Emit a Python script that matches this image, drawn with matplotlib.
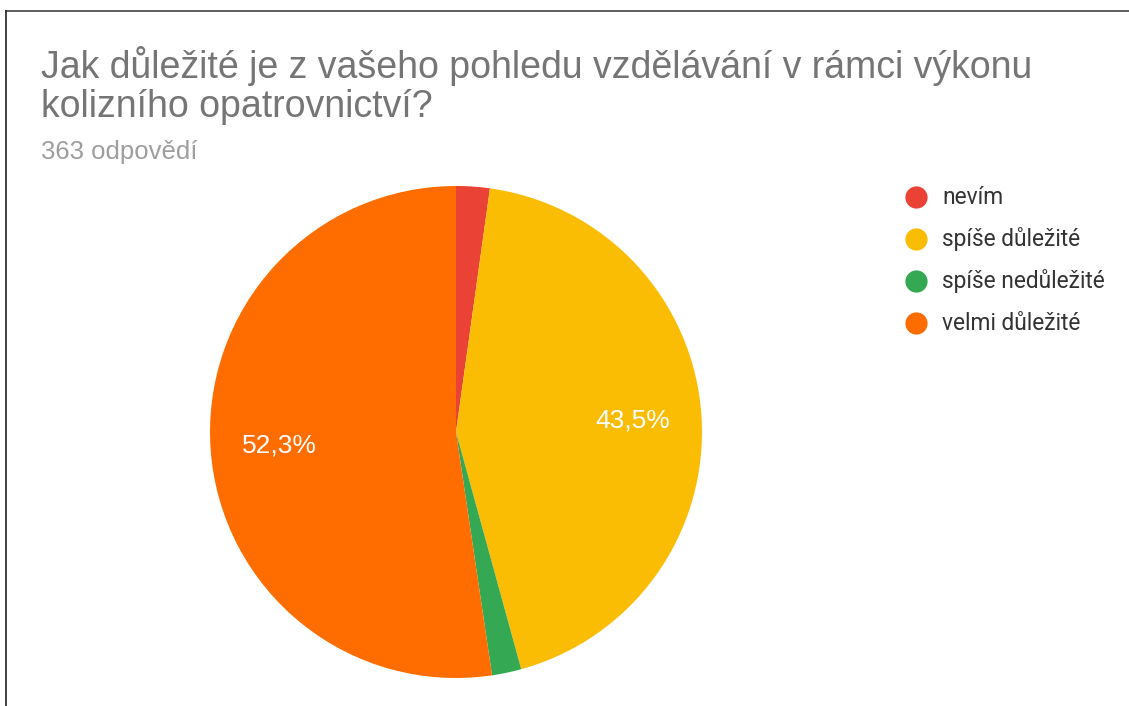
import numpy as np
from matplotlib import pyplot as plt
from matplotlib.lines import Line2D

#==============================================================================
# data
#==============================================================================
lis_label = ['nevím', 'spíše důležité', 'spíše nedůležité', 'velmi důležité']
lis_count = [8, 158, 7, 190]
lis_color = ['#EA4335', '#FBBC04', '#34A853', '#FF6D01']

title = 'Jak důležité je z vašeho pohledu vzdělávání v rámci výkonu\nkolizního opatrovnictví?'
subtitle = '363 odpovědí'

#==============================================================================
W, H = 1129, 706
fig = plt.figure(figsize=(W/100, H/100), dpi=100)
fig.patch.set_facecolor('white')

def px(x, y):
    # pixel (from top-left) -> figure fraction
    return x / W, 1 - y / H

# pie: centre (456, 432), radius 246 px
r = 246
cx, cy = 456, 432
ax = fig.add_axes([(cx - r)/W, (H - cy - r)/H, 2*r/W, 2*r/H])

def fmt_pct(p):
    if p < 5:
        return ''
    return ('%.1f%%' % p).replace('.', ',')

wedges, texts, autotexts = ax.pie(lis_count, colors=lis_color, startangle=90,
                                  counterclock=False, autopct=fmt_pct,
                                  pctdistance=0.72, radius=1.0,
                                  wedgeprops=dict(linewidth=0))
for t in autotexts:
    t.set_color('white')
    t.set_fontsize(19)
    t.set_family('Liberation Sans')
ax.set_xlim(-1, 1)
ax.set_ylim(-1, 1)
ax.set_aspect('equal')
ax.axis('off')

# title and subtitle
x0 = px(41, 0)[0]
fig.text(x0, px(0, 46)[1], title, fontsize=27, color='#757575',
         family='Liberation Sans', va='top', ha='left', linespacing=1.12)
fig.text(x0, px(0, 152)[1], subtitle, fontsize=18.5, color='#9E9E9E',
         family='Liberation Sans', va='center', ha='left')

# legend
for n in range(len(lis_label)):
    y = 197 + n*42
    lx, ly = px(916, y)
    fig.add_artist(Line2D([lx], [ly], marker='o', markersize=16,
                          markerfacecolor=lis_color[n], markeredgewidth=0,
                          linestyle='none', transform=fig.transFigure))
    tx, ty = px(942, y)
    fig.text(tx, ty, lis_label[n], fontsize=16.4, color='#333333',
             family='Roboto', va='center', ha='left')

# frame lines (top and left)
fig.add_artist(Line2D([px(6, 0)[0], 1], [px(0, 11)[1]]*2, color='#444444',
                      linewidth=1.2, transform=fig.transFigure))
fig.add_artist(Line2D([px(6, 0)[0]]*2, [px(0, 11)[1], 0], color='#222222',
                      linewidth=1.2, transform=fig.transFigure))

plt.savefig('out.png', dpi=100)
